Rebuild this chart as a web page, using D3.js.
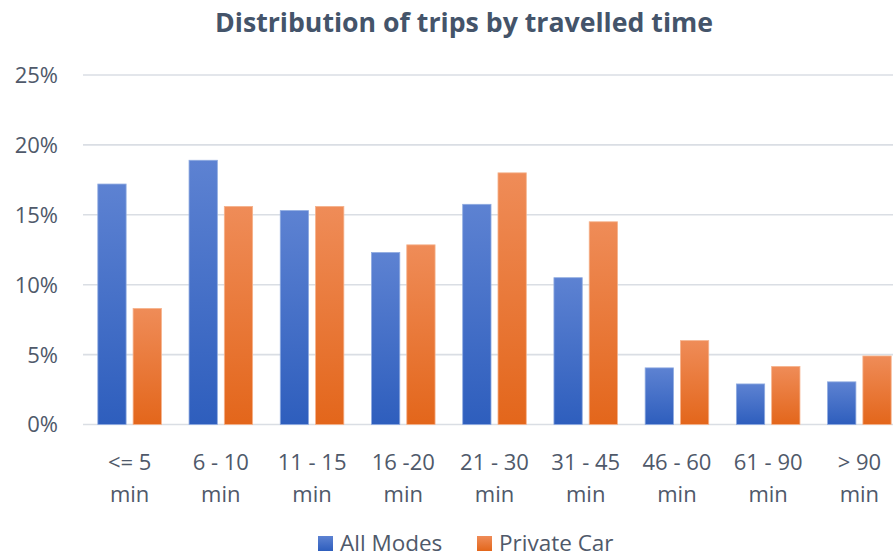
<!DOCTYPE html>
<html>
<head>
<meta charset="utf-8">
<script src="https://cdn.jsdelivr.net/npm/d3@7"></script>
<style>
  body { margin: 0; background: #fff; }
  svg { display: block; }
</style>
</head>
<body>
<div id="chart"></div>
<script>
var categories = ["<= 5|min", "6 - 10|min", "11 - 15|min", "16 -20|min", "21 - 30|min",
                  "31 - 45|min", "46 - 60|min", "61 - 90|min", "> 90|min"];
var seriesNames = ["All Modes", "Private Car"];
var allModes = [17.2, 18.9, 15.3, 12.3, 15.75, 10.5, 4.05, 2.9, 3.05];
var privateCar = [8.3, 15.6, 15.6, 12.85, 18.0, 14.5, 6.0, 4.15, 4.9];
var yTicks = [0, 5, 10, 15, 20, 25];

var width = 893, height = 558;
var plot = { left: 84, right: 905, top: 75, bottom: 424.5 };

var svg = d3.select("#chart").append("svg")
    .attr("width", width)
    .attr("height", height);

var defs = svg.append("defs");
var grads = [
    { id: "gBlue", top: "#5d82d2", bottom: "#2e5ebd", stroke: "#8eaae0" },
    { id: "gOrange", top: "#ef8c58", bottom: "#e3661b", stroke: "#f5b28c" }
];
grads.forEach(g => {
    var lg = defs.append("linearGradient").attr("id", g.id)
        .attr("x1", 0).attr("y1", 0).attr("x2", 0).attr("y2", 1);
    lg.append("stop").attr("offset", "0%").attr("stop-color", g.top);
    lg.append("stop").attr("offset", "100%").attr("stop-color", g.bottom);
});

var x0 = d3.scaleBand().domain(categories).range([plot.left, plot.right])
    .paddingInner(0.303).paddingOuter(0.1515);
var x1 = d3.scaleBand().domain(seriesNames).range([0, x0.bandwidth()])
    .paddingInner(0.198).paddingOuter(0);
var y = d3.scaleLinear().domain([0, 25]).range([plot.bottom, plot.top]);

var labelColor = "#4f596a";
var font = "'Open Sans', 'Noto Sans', sans-serif";

// gridlines
svg.append("g").selectAll("line")
    .data(yTicks)
    .enter().append("line")
    .attr("x1", plot.left - 1)
    .attr("x2", width)
    .attr("y1", d => y(d))
    .attr("y2", d => y(d))
    .attr("stroke", "#dadee4")
    .attr("stroke-width", 1.6);

// y labels
svg.append("g").selectAll("text")
    .data(yTicks)
    .enter().append("text")
    .attr("x", 58)
    .attr("y", d => y(d))
    .attr("dy", "0.36em")
    .attr("text-anchor", "end")
    .attr("font-family", font)
    .attr("font-size", "22px")
    .attr("fill", labelColor)
    .text(d => d + "%");

// bars
var rows = categories.map((c, i) => ({ cat: c, values: [allModes[i], privateCar[i]] }));
var groups = svg.append("g").selectAll("g")
    .data(rows)
    .enter().append("g")
    .attr("transform", d => `translate(${x0(d.cat)},0)`);

groups.selectAll("rect")
    .data(d => d.values.map((v, j) => ({ key: seriesNames[j], value: v, j: j })))
    .enter().append("rect")
    .attr("x", d => x1(d.key))
    .attr("y", d => y(d.value))
    .attr("width", x1.bandwidth())
    .attr("height", d => y(0) - y(d.value))
    .attr("fill", d => `url(#${grads[d.j].id})`)
    .attr("stroke", d => grads[d.j].stroke)
    .attr("stroke-width", 0.8);

// x labels, two lines
var xl = svg.append("g").selectAll("text")
    .data(categories)
    .enter().append("text")
    .attr("text-anchor", "middle")
    .attr("font-family", font)
    .attr("font-size", "22px")
    .attr("fill", labelColor);
xl.append("tspan")
    .attr("x", d => x0(d) + x0.bandwidth() / 2)
    .attr("y", 470)
    .text(d => d.split("|")[0]);
xl.append("tspan")
    .attr("x", d => x0(d) + x0.bandwidth() / 2)
    .attr("y", 502)
    .text(d => d.split("|")[1]);

// title
svg.append("text")
    .attr("x", 464)
    .attr("y", 31.5)
    .attr("text-anchor", "middle")
    .attr("font-family", font)
    .attr("font-weight", "bold")
    .attr("font-size", "27px")
    .attr("fill", "#44546a")
    .attr("textLength", 498)
    .attr("lengthAdjust", "spacingAndGlyphs")
    .text("Distribution of trips by travelled time");

// legend
var legendX = [318, 477];
var legend = svg.append("g").selectAll("g")
    .data(seriesNames)
    .enter().append("g")
    .attr("transform", (d, i) => `translate(${legendX[i]},0)`);
legend.append("rect")
    .attr("x", 0)
    .attr("y", 536)
    .attr("width", 15)
    .attr("height", 15)
    .attr("fill", (d, i) => `url(#${grads[i].id})`);
legend.append("text")
    .attr("x", 22)
    .attr("y", 551)
    .attr("font-family", font)
    .attr("font-size", "22.5px")
    .attr("fill", labelColor)
    .text(d => d);
</script>
</body>
</html>
